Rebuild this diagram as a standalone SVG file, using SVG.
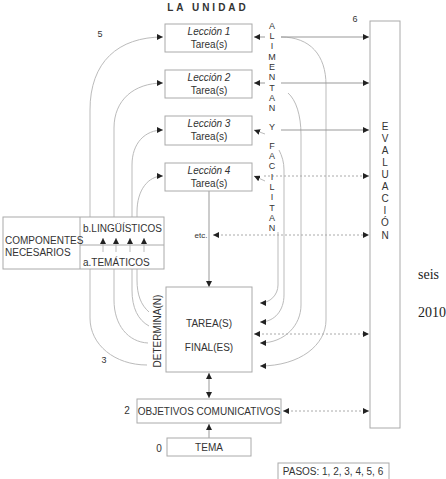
<svg xmlns="http://www.w3.org/2000/svg" width="446" height="479" viewBox="0 0 446 479">
<style>
text{font-family:"Liberation Sans",Arial,sans-serif;fill:#333;font-size:10px}
.box{fill:#fff;stroke:#aaa;stroke-width:1}
.c{fill:none;stroke:#bbb;stroke-width:1}
.l{fill:none;stroke:#999;stroke-width:1}
.d{fill:none;stroke:#aaa;stroke-width:1;stroke-dasharray:2,2}
.ctr{text-anchor:middle}
.it{font-style:italic}
.col{text-anchor:middle;font-size:9px}
.ev{text-anchor:middle;font-size:10px}
.ser{font-family:"Liberation Serif","Times New Roman",serif;font-size:14px;fill:#222}
</style>
<defs>
<marker id="ah" viewBox="0 0 6 6" refX="6" refY="3" markerWidth="6" markerHeight="6" markerUnits="userSpaceOnUse" orient="auto-start-reverse">
<path d="M0,0 L6,3 L0,6 Z" fill="#222"/>
</marker>
</defs>
<rect width="446" height="479" fill="#fff"/>
<text x="208" y="11" class="ctr" style="font-weight:bold;letter-spacing:3px;font-size:10px">LA UNIDAD</text>
<g id="connectors">
<path class="c" d="M90 318 L90 110 C90 62 118 37 163 37" marker-end="url(#ah)"/>
<path class="c" d="M90 318 C90 345 115 365 147 365"/>
<path class="c" d="M114 300 L114 128 C114 100 134 83 163 83" marker-end="url(#ah)"/>
<path class="c" d="M114 300 C114 325 128 342 148 343"/>
<path class="c" d="M132 290 L132 165 C132 143 145 130 163 130" marker-end="url(#ah)"/>
<path class="c" d="M132 290 C132 308 138 320 149 326"/>
<path class="c" d="M137 280 L137 212 C137 190 148 176 163 176" marker-end="url(#ah)"/>
<path class="c" d="M137 280 C137 295 141 305 149 312"/>
<path class="c" d="M281 37 C310 37 326 55 326 85 L326 320 C326 345 300 366 260 366" marker-end="url(#ah)"/>
<path class="c" d="M288 93 C296 100 301 115 301 135 L301 305 C301 325 285 343 260 343" marker-end="url(#ah)"/>
<path class="c" d="M279 150 C282 156 284 162 284 170 L284 295 C284 310 275 322 260 322" marker-end="url(#ah)"/>
<path class="c" d="M278 232 L278 285 C278 295 270 303 260 303" marker-end="url(#ah)"/>
<path class="l" d="M265 37 L254 37" marker-end="url(#ah)"/>
<path class="l" d="M265 83 L254 83" marker-end="url(#ah)"/>
<path class="c" d="M265 134 L254 130" marker-end="url(#ah)"/>
<path class="c" d="M265 181 L254 176" marker-end="url(#ah)"/>
<path class="l" d="M281 37 L369 37" marker-end="url(#ah)"/>
<path class="l" d="M281 83 L369 83" marker-end="url(#ah)"/>
<path class="l" d="M281 130 L369 130" marker-end="url(#ah)"/>
<path class="d" d="M264 176 L369 176" marker-end="url(#ah)"/>
<path class="d" d="M213 235 L369 235" marker-start="url(#ah)" marker-end="url(#ah)"/>
<path class="d" d="M254 334 L369 334" marker-start="url(#ah)" marker-end="url(#ah)"/>
<path class="d" d="M283 411 L369 411" marker-start="url(#ah)" marker-end="url(#ah)"/>
<path class="l" d="M209 191 L209 287" marker-end="url(#ah)"/>
<path class="l" d="M209 373 L209 398" marker-start="url(#ah)" marker-end="url(#ah)"/>
<path class="l" d="M209 438 L209 424" marker-end="url(#ah)"/>
</g>
<g id="leccion1"><rect class="box" x="165" y="24" width="87" height="28"/><text x="209" y="35" class="ctr it">Lección 1</text><text x="209" y="48" class="ctr">Tarea(s)</text></g>
<g id="leccion2"><rect class="box" x="165" y="70" width="87" height="28"/><text x="209" y="81" class="ctr it">Lección 2</text><text x="209" y="94" class="ctr">Tarea(s)</text></g>
<g id="leccion3"><rect class="box" x="165" y="116" width="87" height="29"/><text x="209" y="127" class="ctr it">Lección 3</text><text x="209" y="140" class="ctr">Tarea(s)</text></g>
<g id="leccion4"><rect class="box" x="165" y="163" width="87" height="28"/><text x="209" y="174" class="ctr it">Lección 4</text><text x="209" y="187" class="ctr">Tarea(s)</text></g>
<g id="componentes">
<rect class="box" x="3" y="217" width="161" height="52"/>
<path d="M80 217 L80 269 M80 245 L164 245" fill="none" stroke="#aaa"/>
<text x="5" y="244">COMPONENTES</text>
<text x="5" y="256">NECESARIOS</text>
<text x="83" y="232">b.LINGÜÍSTICOS</text>
<text x="83" y="266">a.TEMÁTICOS</text>
<path class="c" d="M103 252 L103 238" marker-end="url(#ah)"/>
<path class="c" d="M116 252 L116 238" marker-end="url(#ah)"/>
<path class="c" d="M130 252 L130 238" marker-end="url(#ah)"/>
<path class="c" d="M144 252 L144 238" marker-end="url(#ah)"/>
</g>
<g id="etc"><text x="201" y="238" class="ctr" style="font-size:8px">etc.</text></g>
<g id="alimentan">
<text class="col"><tspan x="272" y="29">A</tspan><tspan x="272" y="39">L</tspan><tspan x="272" y="49">I</tspan><tspan x="272" y="60">M</tspan><tspan x="272" y="70">E</tspan><tspan x="272" y="80">N</tspan><tspan x="272" y="91">T</tspan><tspan x="272" y="101">A</tspan><tspan x="272" y="111">N</tspan><tspan x="272" y="130">Y</tspan><tspan x="272" y="149">F</tspan><tspan x="272" y="159">A</tspan><tspan x="272" y="169">C</tspan><tspan x="272" y="180">I</tspan><tspan x="272" y="190">L</tspan><tspan x="272" y="200">I</tspan><tspan x="272" y="211">T</tspan><tspan x="272" y="221">A</tspan><tspan x="272" y="231">N</tspan></text>
</g>
<g id="evaluacion">
<rect class="box" x="370" y="21" width="30" height="407"/>
<text class="ev"><tspan x="385" y="130">E</tspan><tspan x="385" y="142">V</tspan><tspan x="385" y="154">A</tspan><tspan x="385" y="166">L</tspan><tspan x="385" y="178">U</tspan><tspan x="385" y="190">A</tspan><tspan x="385" y="202">C</tspan><tspan x="385" y="214">I</tspan><tspan x="385" y="226">Ó</tspan><tspan x="385" y="239">N</tspan></text>
</g>
<g id="tareafinal">
<rect class="box" x="166" y="287" width="86" height="85"/>
<text x="209" y="327" class="ctr">TAREA(S)</text>
<text x="209" y="351" class="ctr">FINAL(ES)</text>
</g>
<g id="determina"><text transform="translate(160.5,331) rotate(-90)" class="ctr" style="font-size:10px">DETERMINA(N)</text></g>
<g id="objetivos"><rect class="box" x="137" y="399" width="144" height="24"/><text x="209" y="415" class="ctr">OBJETIVOS COMUNICATIVOS</text></g>
<g id="tema"><rect class="box" x="167" y="438" width="84" height="18"/><text x="209" y="451" class="ctr">TEMA</text></g>
<g id="pasos"><rect class="box" x="278" y="463" width="111" height="22"/><text x="333" y="475" class="ctr">PASOS: 1, 2, 3, 4, 5, 6</text></g>
<g id="labels">
<text x="100" y="37" class="ctr" style="font-size:9px">5</text>
<text x="355" y="22" class="ctr" style="font-size:9px">6</text>
<text x="104" y="363" class="ctr" style="font-size:9px">3</text>
<text x="127" y="414" class="ctr">2</text>
<text x="159" y="452" class="ctr">0</text>
<text x="418" y="279" class="ser">seis</text>
<text x="418" y="317" class="ser">2010</text>
</g>
</svg>
